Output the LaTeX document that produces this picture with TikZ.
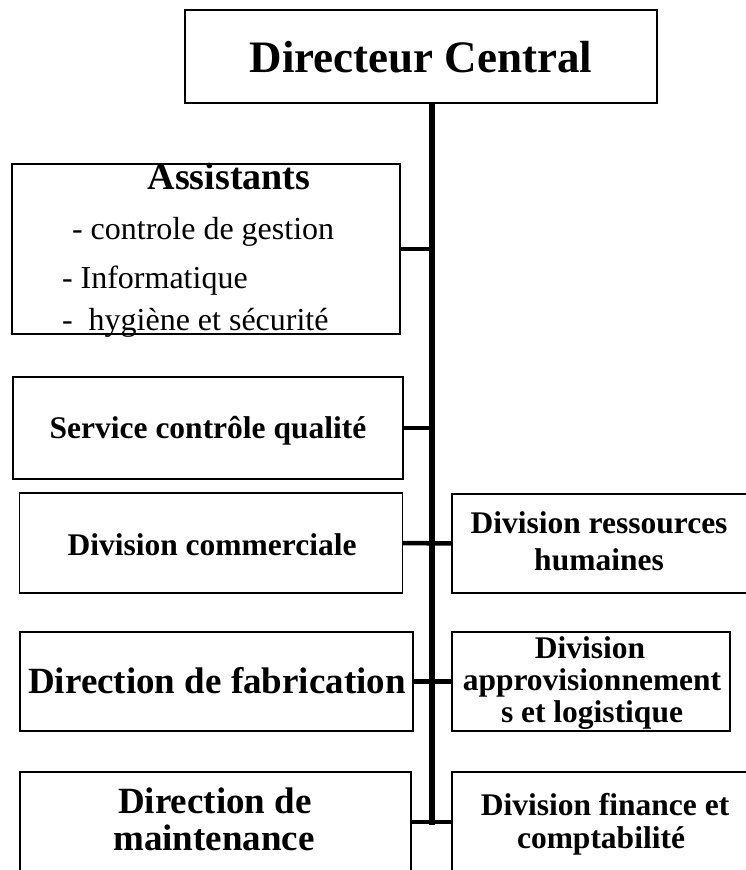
\documentclass[tikz,border=0pt]{standalone}
\usepackage{fontspec}
\setmainfont{Liberation Serif}
\begin{document}
\begin{tikzpicture}[x=1pt,y=-1pt,
  boxn/.style={draw=black,line width=1.6pt,rectangle,inner sep=0pt,outer sep=0pt},
  lbl/.style={inner sep=0pt,outer sep=0pt,anchor=base},
  lblw/.style={inner sep=0pt,outer sep=0pt,anchor=base west},
  fxl/.style={font=\bfseries\fontsize{45}{54}\selectfont},
  fl/.style={font=\bfseries\fontsize{37}{44}\selectfont},
  fm/.style={font=\bfseries\fontsize{31.5}{38}\selectfont},
  fr/.style={font=\fontsize{32}{38}\selectfont},
  trunkline/.style={line width=5.5pt},
  branchline/.style={line width=4.5pt}]
\useasboundingbox (0,0) rectangle (745,870);
% boxes
\node[boxn,minimum width=472pt,minimum height=93pt] (top) at (421,56.5) {};
\node[boxn,minimum width=388pt,minimum height=170pt] (assist) at (206,249) {};
\node[boxn,minimum width=390pt,minimum height=102pt] (svc) at (208,428) {};
\node[boxn,minimum width=383pt,minimum height=100pt] (comm) at (211,543) {};
\node[boxn,minimum width=308pt,minimum height=99pt] (rh) at (606,543.5) {};
\node[boxn,minimum width=393pt,minimum height=99pt] (fab) at (216.5,681.5) {};
\node[boxn,minimum width=278pt,minimum height=99pt] (appro) at (591,681.5) {};
\node[boxn,minimum width=391pt,minimum height=100pt] (maint) at (215.5,822) {};
\node[boxn,minimum width=308pt,minimum height=100pt] (fin) at (606,822) {};
% texts
\node[lbl,fxl] (ttop) at (421,72) {Directeur Central};
\node[lbl,font=\bfseries\fontsize{38}{44}\selectfont] (tas) at (229,189) {Assistants};
\node[lblw,fr] (ta1) at (72,239) {- controle de gestion};
\node[lblw,fr] (ta2) at (62,288) {- Informatique};
\node[lblw,fr] (ta3) at (62,330) {-\ \ hygiène et sécurité};
\node[lbl,fm] (tsvc) at (208,438) {Service contrôle qualité};
\node[lbl,fm] (tcomm) at (212,555) {Division commerciale};
\node[lbl,fm] (trh1) at (599,533) {Division ressources};
\node[lbl,fm] (trh2) at (599,570) {humaines};
\node[lbl,fm] (tap1) at (590,658) {Division};
\node[lbl,fm] (tap2) at (592,690) {approvisionnement};
\node[lbl,fm] (tap3) at (592,722) {s et logistique};
\node[lbl,fm] (tfi1) at (605,815) {Division finance et};
\node[lbl,fm] (tfi2) at (601,848) {comptabilité};
\node[lbl,fl] (tfab) at (217,693) {Direction de fabrication};
\node[lbl,fl] (tma1) at (215,813) {Direction de};
\node[lbl,fl] (tma2) at (214,850) {maintenance};
% connectors
\coordinate (trtop) at (432,103);
\coordinate (trbot) at (432,825);
\draw[trunkline] (top.south -| trtop) -- (trbot);
\draw[branchline] (assist.east) -- (assist.east -| trtop);
\draw[branchline] (svc.east) -- (svc.east -| trtop);
\draw[branchline] (comm.east) -- (rh.west);
\draw[branchline] (fab.east) -- (appro.west);
\draw[branchline] (maint.east) -- (fin.west);
\end{tikzpicture}
\end{document}
